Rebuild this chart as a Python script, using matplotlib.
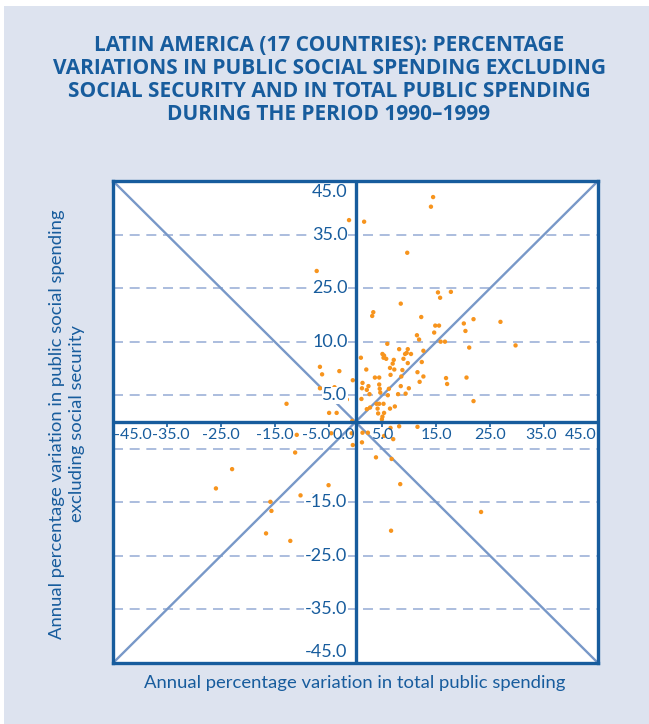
import matplotlib
matplotlib.use("Agg")
import matplotlib.pyplot as plt
from matplotlib.patches import Rectangle

# Annual % variation in total public spending (x) and in public social
# spending excluding social security (y), country-years 1990-1999
total_spending = [
    -1.2, 1.6, -7.2, 14.4, 14.0, 9.6, 15.3, 15.7, 17.7, 8.4,
    3.3, 3.1, 12.2, 21.9, 26.9, 20.1, 14.8, 15.5, 20.4, 14.6,
    11.4, 11.8, 15.8, 16.6, 5.9, 29.7, 21.1, 12.6, 8.1, 9.7,
    9.5, 9.2, 10.3, 5.0, 5.3, 5.7, 5.2, 1.0, 8.9, 7.1,
    12.3, 9.7, 6.9, 6.4, 7.2, 2.0, 8.7, 11.5, 6.5, 8.5,
    12.6, 16.8, 20.6, 3.6, 4.4, -0.5, 1.3, 11.9, 17.0, 4.4,
    2.4, 1.2, 4.5, 6.2, 9.9, 2.1, 4.6, 2.6, 6.0, 7.9,
    9.3, -1.6, 1.1, 21.9, 3.9, 4.4, 5.2, 2.7, 2.1, 7.3,
    6.4, 4.1, 4.2, 5.3, 5.0, 4.9, -0.6, 6.5, 8.1, 11.5,
    -0.7, 1.3, 2.3, -0.5, 1.2, 5.3, 7.0, 3.8, 6.7, 8.3,
    23.3, 6.6, -10.9, -11.2, -4.5, -22.9, -25.9, -5.0, -10.2, -7.9,
    -15.8, -15.6, -16.6, -12.1, -6.6, -6.2, -3.0, -6.6, -3.9, -12.8,
    -4.9, -3.5, 8.4,
]
social_spending = [
    37.7, 37.4, 28.2, 42.0, 40.2, 31.6, 24.2, 23.2, 24.3, 22.1,
    20.5, 19.8, 19.6, 19.2, 18.7, 18.4, 18.0, 18.0, 17.0, 16.7,
    16.2, 15.4, 15.0, 15.0, 14.6, 14.3, 13.9, 13.3, 13.6, 13.6,
    12.9, 12.7, 12.7, 12.7, 12.4, 11.8, 12.0, 12.0, 11.8, 11.6,
    11.2, 11.0, 10.9, 10.1, 9.8, 9.8, 9.7, 9.3, 8.8, 8.5,
    8.5, 8.2, 8.3, 8.3, 8.3, 7.8, 7.3, 7.5, 7.1, 7.0,
    6.7, 6.3, 6.2, 6.2, 6.3, 6.0, 5.5, 5.2, 5.0, 5.2,
    5.3, 4.2, 4.3, 3.9, 3.4, 3.4, 3.4, 2.7, 2.4, 2.9,
    2.5, 2.5, 1.6, 1.7, 1.0, 0.5, 0.2, -1.1, -0.8, -0.9,
    -2.1, -2.0, -2.0, -4.3, -3.8, -2.6, -3.2, -6.6, -6.9, -11.6,
    -16.8, -20.3, -2.4, -5.7, -2.1, -8.8, -12.4, -11.8, -13.7, -13.8,
    -14.9, -16.6, -20.8, -22.2, 10.3, 8.9, 9.5, 6.3, 6.5, 3.4,
    1.7, 1.7, 6.7,
]

axis_limits = [-45, 45]
grid_values = [-35, -25, -15, -5, 5, 15, 25, 35]

x_tick_values = [-45, -35, -25, -15, -5, 0, 5, 15, 25, 35, 45]
x_tick_labels = ["-45.0", "-35.0", "-25.0", "-15.0", "-5.0", "0.0",
                 "5.0", "15.0", "25.0", "35.0", "45.0"]
y_tick_values = [45, 35, 25, 15, 5, -15, -25, -35, -45]
y_tick_labels = ["45.0", "35.0", "25.0", "10.0", "5.0",
                 "-15.0", "-25.0", "-35.0", "-45.0"]

title = ("LATIN AMERICA (17 COUNTRIES): PERCENTAGE\n"
         "VARIATIONS IN PUBLIC SOCIAL SPENDING EXCLUDING\n"
         "SOCIAL SECURITY AND IN TOTAL PUBLIC SPENDING\n"
         "DURING THE PERIOD 1990\u20131999")
x_label = "Annual percentage variation in total public spending"
y_label = ("Annual percentage variation in public social spending\n"
           "excluding social security")

BG = "#dde3ef"
NAVY = "#175c9d"
DIAG = "#7898c8"
GRID = "#9db2d8"
DOT = "#f7941d"
FONT = ["Lato", "DejaVu Sans"]

plt.rcParams["font.family"] = FONT

fig = plt.figure(figsize=(6.49, 7.24), dpi=100, facecolor="white")
fig.patches.append(Rectangle((4 / 649, 0), 1, 1 - 6 / 724,
                             transform=fig.transFigure, facecolor=BG,
                             edgecolor="none", zorder=-10))

ax = fig.add_axes([113 / 649, 61 / 724, 485 / 649, 482 / 724])
ax.set_facecolor("white")
ax.set_xlim(axis_limits)
ax.set_ylim(axis_limits)
ax.set_xticks([])
ax.set_yticks([])
for s in ax.spines.values():
    s.set_color(NAVY)
    s.set_linewidth(2.4)
    s.set_zorder(6)

for g in grid_values:
    ax.axhline(g, color=GRID, lw=1.2, dashes=(6, 4), zorder=1)

ax.plot(axis_limits, axis_limits, color=DIAG, lw=1.7, zorder=2)
ax.plot(axis_limits, axis_limits[::-1], color=DIAG, lw=1.7, zorder=2)

ax.axhline(0, color=NAVY, lw=2.4, zorder=5)
ax.axvline(0, color=NAVY, lw=2.4, zorder=5)

# small downward ticks on the horizontal axis
for v in x_tick_values[1:-1]:
    if v != 0:
        ax.plot([v, v], [0, -0.9], color=NAVY, lw=1.2, zorder=5,
                solid_capstyle="butt")

ax.scatter(total_spending, social_spending, s=10, color=DOT,
           edgecolors="none", zorder=4)

# horizontal-axis labels; the outermost ones are pulled inside the frame
x_nudge = {-45: 0.1, -35: 0.8, -5: -2.3, 0: -0.15, 35: -0.6, 45: -0.2}
x_align = {-45: "left", 0: "right", 45: "right"}
tick_kw = dict(color=NAVY, zorder=4)
for v, lab in zip(x_tick_values, x_tick_labels):
    ax.text(v + x_nudge.get(v, 0), -1.2, lab, ha=x_align.get(v, "center"),
            va="top", fontsize=11.5, **tick_kw)

for v, lab in zip(y_tick_values, y_tick_labels):
    va = "center"
    yv = v
    if v == axis_limits[1]:
        va = "top"
        yv = v - 0.6
    elif v == axis_limits[0]:
        va = "bottom"
        yv = v + 0.6
    ax.text(-1.5, yv, lab, ha="right", va=va, fontsize=13,
            bbox=dict(facecolor="white", edgecolor="none", pad=0.5),
            **tick_kw)

fig.text(329 / 649, 1 - 80 / 724, title, ha="center", va="center",
         color=NAVY, fontsize=15, fontweight="bold", linespacing=1.14,
         family=["Open Sans", "DejaVu Sans"])

fig.text(355 / 649, 1 - 683 / 724, x_label, ha="center", va="center",
         color=NAVY, fontsize=13.3)
fig.text(67 / 649, 1 - 424 / 724, y_label, ha="center", va="center",
         rotation=90, color=NAVY, fontsize=13.3, linespacing=1.25)

fig.savefig("out.png", dpi=100, facecolor=fig.get_facecolor())
